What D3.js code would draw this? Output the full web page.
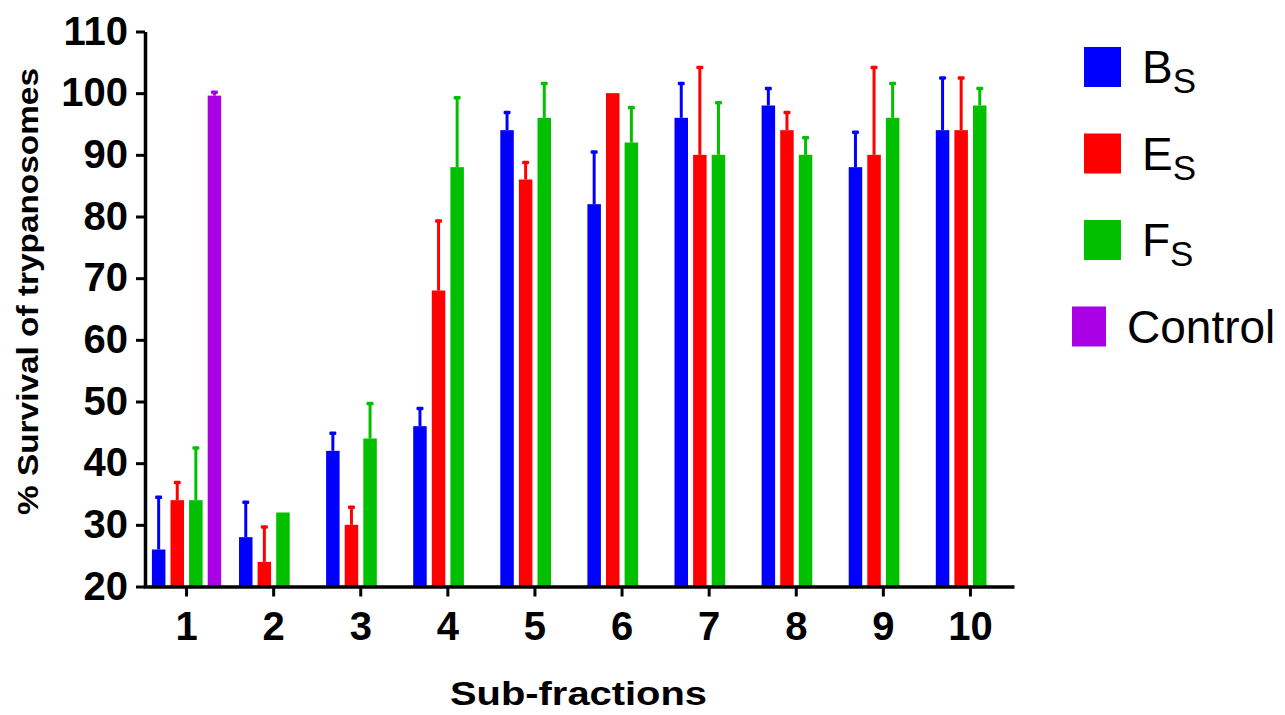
<!DOCTYPE html>
<html>
<head>
<meta charset="utf-8">
<script src="https://cdn.jsdelivr.net/npm/d3@7"></script>
<style>
  html, body { margin: 0; padding: 0; background: #fff; }
  svg { display: block; font-family: Arial, "Liberation Sans", Helvetica, sans-serif; }
</style>
</head>
<body>
<script>
// Sub-fraction categories on the x axis
const categories = ["1", "2", "3", "4", "5", "6", "7", "8", "9", "10"];

// Mean % survival and error (upper whisker length) for each extract
const bsMean = [26, 28, 42, 46, 94, 82, 96, 98, 88, 94];
const bsErr  = [8.5, 5.7, 2.9, 2.9, 2.9, 8.5, 5.6, 2.8, 5.7, 8.5];
const esMean = [34, 24, 30, 68, 86, 100, 90, 94, 90, 94];
const esErr  = [2.9, 5.7, 2.9, 11.3, 2.8, 0, 14.2, 2.9, 14.2, 8.5];
const fsMean = [34, 32, 44, 88, 96, 92, 90, 90, 96, 98];
const fsErr  = [8.5, 0, 5.7, 11.3, 5.6, 5.7, 8.5, 2.8, 5.6, 2.8];
const controlMean = [99.6, null, null, null, null, null, null, null, null, null];
const controlErr  = [0.6, 0, 0, 0, 0, 0, 0, 0, 0, 0];

// Axis ticks and legend text
const yTicks = [20, 30, 40, 50, 60, 70, 80, 90, 100, 110];
const legendMain = ["B", "E", "F", "Control"];
const legendSub  = ["S", "S", "S", ""];
const seriesColors = ["#0000FF", "#FF0000", "#00C000", "#AA00E6"];

const seriesMeans = [bsMean, esMean, fsMean, controlMean];
const seriesErrs  = [bsErr, esErr, fsErr, controlErr];

const svg = d3.select("body").append("svg")
  .attr("width", 1285)
  .attr("height", 715);

const x0 = d3.scaleBand().domain(categories).range([143, 1014]).padding(0);
const x1 = d3.scaleBand().domain(d3.range(4)).range([0, x0.bandwidth()])
  .paddingInner(0.274).paddingOuter(0.479);
const y = d3.scaleLinear().domain([20, 110]).range([586.5, 31.5]);

// flatten into one record per drawn bar
const bars = [];
categories.forEach((c, i) => {
  seriesMeans.forEach((arr, j) => {
    const v = arr[i];
    if (v != null) bars.push({ cat: c, s: j, v: v, e: seriesErrs[j][i] });
  });
});

const plot = svg.append("g");

plot.selectAll("rect.bar")
  .data(bars)
  .join("rect")
  .attr("class", "bar")
  .attr("x", d => x0(d.cat) + x1(d.s))
  .attr("y", d => y(d.v))
  .attr("width", x1.bandwidth())
  .attr("height", d => y(20) - y(d.v))
  .attr("fill", d => seriesColors[d.s]);

// upper error whiskers with small caps
const errs = bars.filter(d => d.e > 0);
const cx = d => x0(d.cat) + x1(d.s) + x1.bandwidth() / 2;

plot.selectAll("line.err")
  .data(errs)
  .join("line")
  .attr("class", "err")
  .attr("x1", cx).attr("x2", cx)
  .attr("y1", d => y(d.v))
  .attr("y2", d => y(d.v + d.e))
  .attr("stroke", d => seriesColors[d.s])
  .attr("stroke-width", 3);

plot.selectAll("rect.cap")
  .data(errs)
  .join("rect")
  .attr("class", "cap")
  .attr("x", d => cx(d) - 3.5)
  .attr("y", d => y(d.v + d.e) - 1.5)
  .attr("width", 7)
  .attr("height", 3.5)
  .attr("rx", 1.2)
  .attr("fill", d => seriesColors[d.s]);

// y axis
const yAxis = svg.append("g")
  .attr("transform", "translate(145,0)")
  .call(d3.axisLeft(y).tickValues(yTicks).tickSize(9).tickPadding(8).tickSizeOuter(0));
yAxis.select(".domain").attr("stroke", "#000").attr("stroke-width", 3.5);
yAxis.selectAll(".tick line").attr("stroke", "#000").attr("stroke-width", 3);
yAxis.selectAll(".tick text")
  .attr("fill", "#000")
  .style("font-size", "40px")
  .style("font-weight", "bold")
  .style("font-family", "Arial, 'Liberation Sans', sans-serif");

// x axis
const xAxis = svg.append("g")
  .attr("transform", "translate(0,586.5)")
  .call(d3.axisBottom(x0).tickSize(10).tickPadding(15).tickSizeOuter(0));
xAxis.select(".domain").attr("stroke", "#000").attr("stroke-width", 3.5);
xAxis.selectAll(".tick line").attr("stroke", "#000").attr("stroke-width", 3);
xAxis.selectAll(".tick text")
  .attr("fill", "#000")
  .style("font-size", "40px")
  .style("font-weight", "bold")
  .style("font-family", "Arial, 'Liberation Sans', sans-serif");

// axis titles
svg.append("text")
  .attr("x", 578.5)
  .attr("y", 705)
  .attr("text-anchor", "middle")
  .attr("textLength", 257)
  .attr("lengthAdjust", "spacingAndGlyphs")
  .style("font-size", "34px")
  .style("font-weight", "bold")
  .text("Sub-fractions");

svg.append("text")
  .attr("transform", "translate(38,291.5) rotate(-90)")
  .attr("text-anchor", "middle")
  .attr("textLength", 447)
  .attr("lengthAdjust", "spacingAndGlyphs")
  .style("font-size", "30px")
  .style("font-weight", "bold")
  .text("% Survival of trypanosomes");

// legend
const legend = svg.append("g");
const legendRows = legend.selectAll("g")
  .data(legendMain.map((m, i) => ({ m: m, sub: legendSub[i], i: i })))
  .join("g")
  .attr("transform", d => `translate(0,${67 + d.i * 86.5})`);

legendRows.append("rect")
  .attr("x", d => d.sub ? 1084 : 1072)
  .attr("y", -20)
  .attr("width", d => d.sub ? 37 : 34)
  .attr("height", 40)
  .attr("fill", d => seriesColors[d.i]);

const lt = legendRows.append("text")
  .attr("x", d => d.sub ? 1142 : 1127)
  .attr("y", 16)
  .style("font-size", "46px")
  .attr("fill", "#000");
lt.append("tspan").text(d => d.m);
lt.filter(d => d.sub).append("tspan")
  .attr("dy", 10)
  .style("font-size", "35px")
  .text(d => d.sub);
</script>
</body>
</html>
